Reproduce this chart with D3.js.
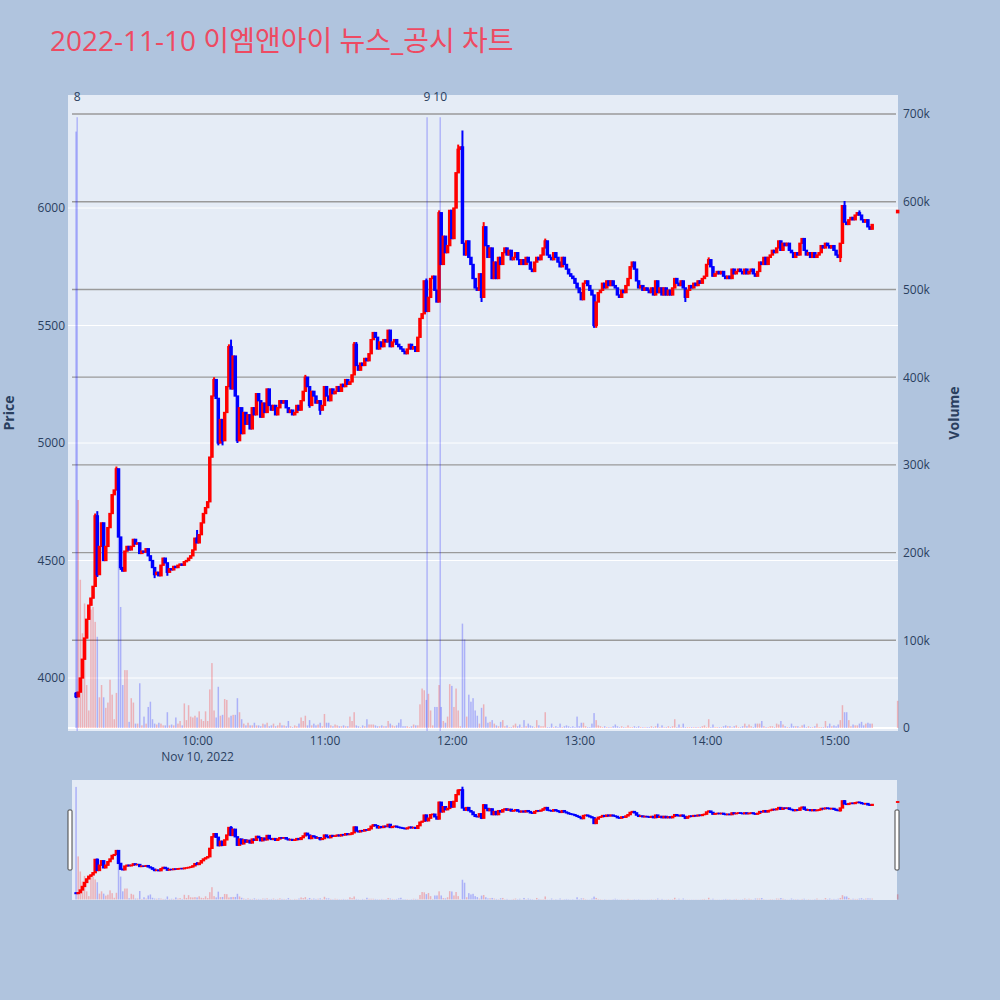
<!DOCTYPE html>
<html><head><meta charset="utf-8">
<script src="https://cdn.jsdelivr.net/npm/d3@7"></script>
<style>body{margin:0;background:#b0c4de;} svg{display:block}</style>
</head><body>
<svg id="chart" width="1000" height="1000"></svg>
<script>
const titleText = "2022-11-10 이엠앤아이 뉴스_공시 차트";
const tradeDay = [2022, 10, 10];
const firstCandle = "09:03";
const lastContinuous = "15:19"; // exclusive end of continuous minute candles
const closingCandle = "15:30";

const opens = [
3935,3920,3940,4000,4080,4170,4250,4310,4340,4390,
4690,4440,4560,4660,4500,4560,4640,4700,4780,4800,
4890,4600,4470,4455,4540,4560,4545,4560,4590,4570,
4575,4530,4540,4535,4550,4520,4500,4470,4440,4450,
4435,4480,4510,4490,4450,4465,4460,4475,4470,4480,
4485,4480,4495,4500,4510,4520,4545,4595,4575,4610,
4660,4700,4725,4750,4940,5200,5270,5190,5000,5100,
5010,5130,5240,5410,5230,5370,5200,5010,5150,5040,
5130,5080,5120,5060,5150,5120,5210,5180,5110,5170,
5130,5230,5160,5140,5160,5120,5150,5180,5170,5180,
5150,5130,5140,5120,5130,5160,5140,5180,5220,5280,
5240,5160,5220,5200,5170,5180,5140,5160,5240,5200,
5180,5230,5210,5220,5240,5220,5250,5240,5270,5250,
5260,5290,5420,5330,5310,5340,5330,5360,5350,5380,
5440,5470,5450,5400,5430,5410,5440,5430,5480,5410,
5430,5440,5420,5410,5400,5390,5380,5400,5420,5400,
5410,5390,5450,5530,5550,5690,5560,5620,5700,5710,
5650,5600,5980,5760,5880,5810,5840,5990,5870,6000,
6150,6250,6260,5850,5800,5860,5790,5760,5700,5660,
5650,5720,5620,5920,5840,5790,5830,5700,5770,5700,
5790,5760,5810,5830,5800,5820,5780,5790,5810,5780,
5760,5780,5760,5790,5770,5740,5730,5770,5790,5780,
5800,5830,5860,5800,5790,5780,5810,5790,5770,5750,
5790,5760,5740,5720,5710,5700,5680,5660,5640,5610,
5680,5690,5670,5650,5630,5500,5600,5640,5650,5680,
5660,5690,5670,5690,5670,5660,5630,5620,5650,5640,
5670,5700,5750,5770,5740,5690,5660,5670,5650,5660,
5650,5640,5660,5630,5690,5640,5660,5630,5660,5630,
5650,5630,5660,5700,5680,5670,5690,5660,5620,5650,
5670,5660,5680,5670,5690,5680,5700,5710,5760,5780,
5750,5710,5720,5730,5720,5730,5710,5700,5710,5700,
5740,5720,5730,5740,5730,5720,5740,5720,5730,5740,
5720,5710,5730,5770,5760,5790,5760,5790,5800,5820,
5810,5830,5860,5820,5850,5840,5850,5820,5810,5790,
5810,5800,5850,5870,5820,5800,5810,5790,5810,5790,
5800,5810,5840,5830,5850,5840,5830,5840,5820,5800,
5790,5850,6010,5940,5930,5950,5960,5950,5970,5980,
5970,5950,5940,5950,5920,5910,
5980];

const closes = [
3920,3940,4000,4080,4170,4250,4310,4340,4390,4690,
4440,4560,4660,4500,4560,4640,4700,4780,4800,4890,
4600,4470,4455,4540,4560,4545,4560,4590,4570,4575,
4530,4540,4535,4550,4520,4500,4470,4440,4450,4435,
4480,4510,4490,4450,4465,4460,4475,4470,4480,4485,
4480,4495,4500,4510,4520,4545,4595,4575,4610,4660,
4700,4725,4750,4940,5200,5270,5190,5000,5100,5010,
5130,5240,5410,5230,5370,5200,5010,5150,5040,5130,
5080,5120,5060,5150,5120,5210,5180,5110,5170,5130,
5230,5160,5140,5160,5120,5150,5180,5170,5180,5150,
5130,5140,5120,5130,5160,5140,5180,5220,5280,5240,
5160,5220,5200,5170,5180,5140,5160,5240,5200,5180,
5230,5210,5220,5240,5220,5250,5240,5270,5250,5260,
5290,5420,5330,5310,5340,5330,5360,5350,5380,5440,
5470,5450,5400,5430,5410,5440,5430,5480,5410,5430,
5440,5420,5410,5400,5390,5380,5400,5420,5400,5410,
5390,5450,5530,5550,5690,5560,5620,5700,5710,5650,
5600,5980,5760,5880,5810,5840,5990,5870,6000,6150,
6250,6260,5850,5800,5860,5790,5760,5700,5660,5650,
5720,5620,5920,5840,5790,5830,5700,5770,5700,5790,
5760,5810,5830,5800,5820,5780,5790,5810,5780,5760,
5780,5760,5790,5770,5740,5730,5770,5790,5780,5800,
5830,5860,5800,5790,5780,5810,5790,5770,5750,5790,
5760,5740,5720,5710,5700,5680,5660,5640,5610,5680,
5690,5670,5650,5630,5500,5600,5640,5650,5680,5660,
5690,5670,5690,5670,5660,5630,5620,5650,5640,5670,
5700,5750,5770,5740,5690,5660,5670,5650,5660,5650,
5640,5660,5630,5690,5640,5660,5630,5660,5630,5650,
5630,5660,5700,5680,5670,5690,5660,5620,5650,5670,
5660,5680,5670,5690,5680,5700,5710,5760,5780,5750,
5710,5720,5730,5720,5730,5710,5700,5710,5700,5740,
5720,5730,5740,5730,5720,5740,5720,5730,5740,5720,
5710,5730,5770,5760,5790,5760,5790,5800,5820,5810,
5830,5860,5820,5850,5840,5850,5820,5810,5790,5810,
5800,5850,5870,5820,5800,5810,5790,5810,5790,5800,
5810,5840,5830,5850,5840,5830,5840,5820,5800,5790,
5850,6010,5940,5930,5950,5960,5950,5970,5980,5970,
5950,5940,5950,5920,5910,5930,
5990];

// volume in thousands of shares
const volumesK = [
680,260,169,108,142,49,20,135,138,121,
104,35,49,35,23,29,55,38,10,40,
218,138,49,66,66,7,34,29,5,5,
51,3,13,5,24,30,10,5,4,6,
5,3,3,18,3,4,3,12,5,8,
3,28,9,26,13,12,14,12,19,10,
8,19,8,44,74,20,12,47,14,15,
33,32,12,14,15,15,34,18,10,5,
3,6,3,3,6,3,3,2,5,4,
6,2,3,5,2,3,6,3,3,2,
8,2,1,3,2,5,12,8,14,3,
9,3,5,3,4,6,2,16,6,6,
3,2,4,3,2,2,3,2,2,13,
8,18,3,2,1,3,2,10,4,4,
4,3,2,2,3,2,2,8,5,3,
2,3,6,10,2,2,2,1,2,4,
3,3,27,45,43,32,39,20,3,24,
24,49,24,8,6,13,50,48,24,45,
20,2,119,101,13,38,30,34,20,14,
5,23,27,13,6,7,9,5,3,2,
7,9,2,3,1,1,3,5,2,4,
1,9,2,5,3,2,1,9,3,2,
2,18,1,1,5,1,2,1,5,1,
2,3,2,1,2,1,13,2,6,6,
2,1,1,5,17,9,3,2,1,2,
1,1,1,2,4,2,1,2,1,1,
3,1,1,2,1,2,1,1,1,1,
1,2,1,2,5,1,3,1,1,2,
1,2,10,1,4,1,5,1,1,1,
1,1,1,1,1,2,3,1,10,1,
4,1,1,1,1,2,3,2,2,1,
2,3,1,1,2,5,2,4,2,1,
5,5,5,8,2,1,1,2,2,1,
5,4,8,4,2,1,1,5,2,2,
2,1,3,4,1,2,1,1,2,5,
1,1,1,8,2,5,2,3,2,4,
9,26,18,18,9,2,4,3,3,5,
7,3,5,6,5,5,
31];

// shadows (wicks) that reach beyond the candle body
const wickTimes = ["09:03","09:12","09:13","09:22","09:24","09:40","09:46","10:00","10:08","10:10","10:12","10:15","10:16","10:19","10:51","10:53","10:58","11:14","11:15","11:48","11:54","12:03","12:05","12:14","12:15","12:44","13:07","13:08","13:50","14:01","15:03","15:05","15:12"];
const wickHighs = [3940,4700,4710,4900,null,null,null,4630,5280,null,null,5420,5440,null,5290,null,null,5430,5430,5700,5990,6270,6330,null,5940,5870,null,null,null,5790,null,6030,5990];
const wickLows  = [3915,null,4430,null,4460,4425,4435,null,null,4990,4990,null,null,5000,null,5150,5120,null,null,null,null,null,null,5600,null,null,5490,5490,5600,null,5770,null,null];

const newsTimes = ["09:03:30","11:48:20","11:54:30"];
const newsLabels = ["8","9","10"];

const priceTicks = [4000,4500,5000,5500,6000];
const volumeTicksK = [0,100,200,300,400,500,600,700];
const timeTicks = ["10:00","11:00","12:00","13:00","14:00","15:00"];
const dateLabel = "Nov 10, 2022";
const axisTitles = {price: "Price", volume: "Volume"};

// ---------- helpers ----------
function at(hhmm) {
  const p = hhmm.split(":").map(Number);
  return new Date(tradeDay[0], tradeDay[1], tradeDay[2], p[0], p[1], p[2] || 0);
}
const times = d3.timeMinute.range(at(firstCandle), at(lastContinuous)).concat([at(closingCandle)]);
const wickMap = new Map(wickTimes.map((t, i) => [+at(t), i]));
const candles = times.map((t, i) => {
  const o = opens[i], c = closes[i];
  const wi = wickMap.get(+t);
  let h = Math.max(o, c), l = Math.min(o, c);
  if (wi !== undefined) {
    if (wickHighs[wi] != null) h = Math.max(h, wickHighs[wi]);
    if (wickLows[wi] != null) l = Math.min(l, wickLows[wi]);
  }
  return {t, o, h, l, c, v: volumesK[i], up: c >= o};
});

const svg = d3.select("#chart");
const FONT = "'Open Sans', 'Noto Sans', sans-serif";
const TXT = "#2a3f5f";
const RED = "#ff0000", BLUE = "#0000ff";

const L = 68, R = 898, T = 95, B = 731;
const SL_T = 780, SL_B = 900;

const x = d3.scaleTime().domain([at("08:59:12"), at("15:30:10")]).range([L, R]);
const yP = d3.scaleLinear().domain([3774.5, 6481]).range([B, T]);
const yV = d3.scaleLinear().domain([-3.42, 721.7]).range([B, T]);
const yPs = d3.scaleLinear().domain(yP.domain()).range([SL_B, SL_T]);
const yVs = d3.scaleLinear().domain(yV.domain()).range([SL_B, SL_T]);

// title
svg.append("text").attr("x", 50).attr("y", 51)
  .attr("font-family", "'Open Sans', 'Noto Sans CJK KR', sans-serif")
  .attr("font-size", 28).attr("fill", "#ee4a62").text(titleText);

// plot background
svg.append("rect").attr("x", L).attr("y", T).attr("width", R - L).attr("height", B - T).attr("fill", "#e5ecf6");

// grids
const grid = svg.append("g");
grid.selectAll("line.vg").data(volumeTicksK.filter(d => d > 0)).join("line")
  .attr("x1", L + 4).attr("x2", R - 2).attr("y1", d => yV(d)).attr("y2", d => yV(d))
  .attr("stroke", "#9a9a9a").attr("stroke-width", 1.4);
grid.selectAll("line.pg").data(priceTicks).join("line")
  .attr("x1", L).attr("x2", R).attr("y1", d => yP(d)).attr("y2", d => yP(d))
  .attr("stroke", "#ffffff").attr("stroke-width", 1);
grid.append("line").attr("x1", L).attr("x2", R).attr("y1", yV(0)).attr("y2", yV(0))
  .attr("stroke", "#ffffff").attr("stroke-width", 2);

function drawBars(g, ys, bw) {
  g.selectAll("rect").data(candles).join("rect")
    .attr("x", d => x(d.t) - bw / 2).attr("width", bw)
    .attr("y", d => ys(d.v)).attr("height", d => Math.max(0, ys(0) - ys(d.v)))
    .attr("fill", d => d.up ? "rgba(255,0,0,0.25)" : "rgba(0,0,255,0.25)");
}
function drawCandles(g, ys, bw) {
  const c = g.selectAll("g").data(candles).join("g");
  c.append("line").attr("x1", d => x(d.t)).attr("x2", d => x(d.t))
    .attr("y1", d => ys(d.h)).attr("y2", d => ys(d.l))
    .attr("stroke", d => d.up ? RED : BLUE).attr("stroke-width", 2);
  c.append("rect").attr("x", d => x(d.t) - bw / 2).attr("width", bw)
    .attr("y", d => ys(Math.max(d.o, d.c)))
    .attr("height", d => Math.max(0.01, ys(Math.min(d.o, d.c)) - ys(Math.max(d.o, d.c))))
    .attr("fill", d => d.up ? RED : BLUE)
    .attr("stroke", d => d.up ? RED : BLUE).attr("stroke-width", 1.3);
}

drawBars(svg.append("g"), yV, 1.5);
drawCandles(svg.append("g"), yP, 2.2);

// news lines
const newsTop = B - 0.965 * (B - T);
svg.append("g").selectAll("line").data(newsTimes).join("line")
  .attr("x1", d => x(at(d))).attr("x2", d => x(at(d)))
  .attr("y1", newsTop).attr("y2", B)
  .attr("stroke", "rgba(0,0,255,0.35)").attr("stroke-width", 1);
svg.append("g").selectAll("text").data(newsTimes).join("text")
  .attr("x", d => x(at(d))).attr("y", 101)
  .attr("text-anchor", "middle").attr("font-family", FONT).attr("font-size", 12).attr("fill", TXT)
  .text((d, i) => newsLabels[i]);

// axes
function styleAxis(g) {
  g.select(".domain").remove();
  g.selectAll(".tick line").remove();
  g.selectAll("text").attr("font-family", FONT).attr("font-size", 12).attr("fill", TXT);
}
svg.append("g").attr("transform", `translate(${L},0)`)
  .call(d3.axisLeft(yP).tickValues(priceTicks).tickSize(0).tickPadding(3).tickFormat(d3.format("d")))
  .call(styleAxis);
svg.append("g").attr("transform", `translate(${R},0)`)
  .call(d3.axisRight(yV).tickValues(volumeTicksK).tickSize(0).tickPadding(5).tickFormat(d => d === 0 ? "0" : d + "k"))
  .call(styleAxis);
const xa = svg.append("g").attr("transform", `translate(0,${B})`)
  .call(d3.axisBottom(x).tickValues(timeTicks.map(at)).tickSize(0).tickPadding(5).tickFormat(d3.timeFormat("%H:%M")))
  .call(styleAxis);
xa.select(".tick text").append("tspan").attr("x", 0).attr("dy", "1.35em").text(dateLabel);

// axis titles
svg.append("text").attr("transform", `translate(14,${(T + B) / 2}) rotate(-90)`)
  .attr("text-anchor", "middle").attr("font-family", FONT).attr("font-size", 14).attr("font-weight", "bold")
  .attr("fill", TXT).text(axisTitles.price);
svg.append("text").attr("transform", `translate(959,${(T + B) / 2}) rotate(-90)`)
  .attr("text-anchor", "middle").attr("font-family", FONT).attr("font-size", 14).attr("font-weight", "bold")
  .attr("fill", TXT).text(axisTitles.volume);

// range slider
svg.append("rect").attr("x", L + 4).attr("y", SL_T).attr("width", R - L - 5).attr("height", SL_B - SL_T).attr("fill", "#e5ecf6");
drawBars(svg.append("g"), yVs, 1.5);
drawCandles(svg.append("g"), yPs, 2.2);
const grab = svg.append("g");
[L + 2, R - 1].forEach(gx => {
  grab.append("rect").attr("x", gx - 2).attr("y", SL_T + 30).attr("width", 4).attr("height", 60)
    .attr("rx", 1).attr("fill", "#ffffff").attr("stroke", "#444").attr("stroke-width", 1);
});
</script>
</body></html>
